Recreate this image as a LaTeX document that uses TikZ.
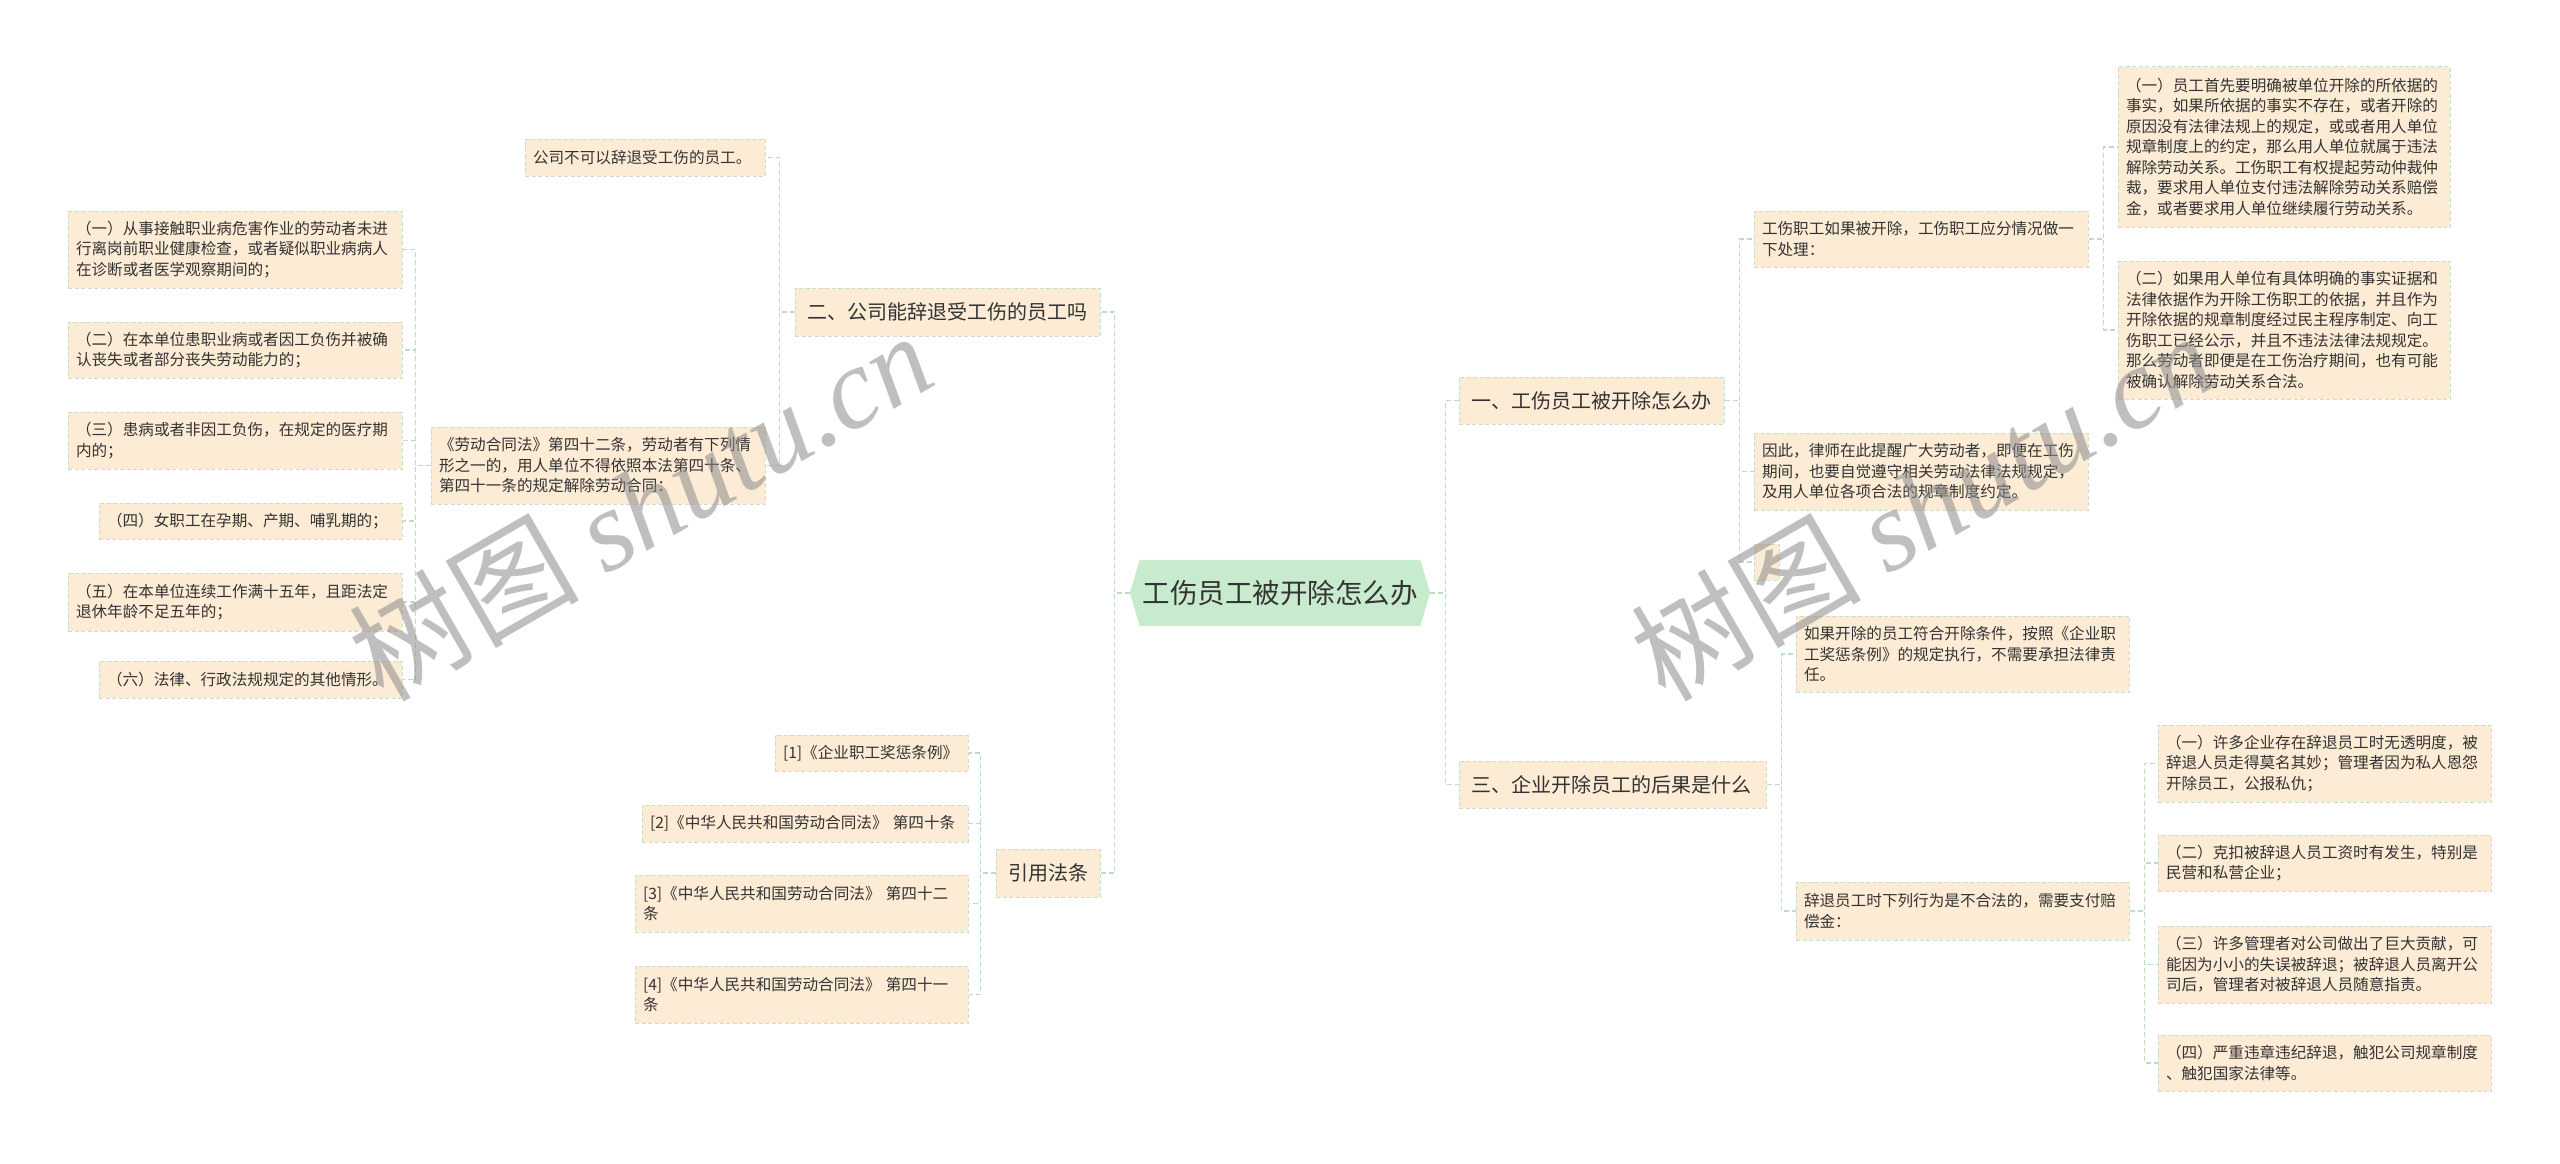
\documentclass[tikz,border=0pt]{standalone}
\usepackage{fontspec}
\setmainfont{Noto Sans CJK SC}
\newfontfamily\wmlatin{Liberation Serif}
\usetikzlibrary{backgrounds}
\definecolor{boxfill}{HTML}{FCEBD5}
\definecolor{boxline}{HTML}{CADFC6}
\definecolor{connc}{HTML}{BCDFC4}
\definecolor{ctrfill}{HTML}{C8EBCE}
\definecolor{txt}{HTML}{333333}
\tikzset{
  box/.style={rectangle, fill=boxfill, draw=boxline, dash pattern=on 4pt off 2.5pt, line width=1pt,
    text=txt, inner xsep=8pt, inner ysep=2pt, align=left, font=\fontsize{15.6}{20.5}\selectfont},
  topbox/.style={box, inner xsep=12pt, font=\fontsize{20}{24}\selectfont},
  conn/.style={draw=connc, line width=1.3pt, dash pattern=on 5pt off 3pt},
  wm/.style={text=black!45, text opacity=0.55, rotate=30, inner sep=0pt}
}
\begin{document}
\begin{tikzpicture}[x=1pt,y=-1pt]
\useasboundingbox (0,0) rectangle (2560,1164);

% centre
\node[text=txt, font=\fontsize{27.5}{33}\selectfont, minimum width=300, minimum height=66, inner sep=0pt] (c) at (1280,593) {工伤员工被开除怎么办};

% left level 1
\node[topbox, minimum width=305, minimum height=48, text width=281] (L1) at (947.5,312) {二、公司能辞退受工伤的员工吗};
\node[topbox, minimum width=104, minimum height=48, text width=80] (L3) at (1048,873) {引用法条};

% left level 2
\node[box, minimum width=240, minimum height=37, text width=224] (L1a) at (645,157.5) {公司不可以辞退受工伤的员工。};
\node[box, minimum width=334, minimum height=77, text width=318] (L1b) at (598,465.5) {《劳动合同法》第四十二条，劳动者有下列情\\形之一的，用人单位不得依照本法第四十条、\\第四十一条的规定解除劳动合同：};

% left level 3
\node[box, minimum width=334, minimum height=77, text width=318] (k1) at (235,249.5) {（一）从事接触职业病危害作业的劳动者未进\\行离岗前职业健康检查，或者疑似职业病病人\\在诊断或者医学观察期间的；};
\node[box, minimum width=334, minimum height=56, text width=318] (k2) at (235,350) {（二）在本单位患职业病或者因工负伤并被确\\认丧失或者部分丧失劳动能力的；};
\node[box, minimum width=334, minimum height=57, text width=318] (k3) at (235,440.5) {（三）患病或者非因工负伤，在规定的医疗期\\内的；};
\node[box, minimum width=303, minimum height=36, text width=287] (k4) at (250.5,521) {（四）女职工在孕期、产期、哺乳期的；};
\node[box, minimum width=334, minimum height=58, text width=318] (k5) at (235,602) {（五）在本单位连续工作满十五年，且距法定\\退休年龄不足五年的；};
\node[box, minimum width=303, minimum height=37, text width=287] (k6) at (250.5,679.5) {（六）法律、行政法规规定的其他情形。};

% references
\node[box, minimum width=193, minimum height=36, text width=177] (f1) at (871.5,753) {[1]《企业职工奖惩条例》};
\node[box, minimum width=326, minimum height=37, text width=310] (f2) at (805,823.5) {[2]《中华人民共和国劳动合同法》 第四十条};
\node[box, minimum width=333, minimum height=57, text width=317] (f3) at (801.5,903.5) {[3]《中华人民共和国劳动合同法》 第四十二\\条};
\node[box, minimum width=333, minimum height=57, text width=317] (f4) at (801.5,994.5) {[4]《中华人民共和国劳动合同法》 第四十一\\条};

% right level 1
\node[topbox, minimum width=265, minimum height=47, text width=241] (R1) at (1591.5,400.5) {一、工伤员工被开除怎么办};
\node[topbox, minimum width=307, minimum height=47, text width=283] (R3) at (1612.5,784.5) {三、企业开除员工的后果是什么};

% R1 children
\node[box, minimum width=334, minimum height=56, text width=318] (R1a) at (1921,239) {工伤职工如果被开除，工伤职工应分情况做一\\下处理：};
\node[box, minimum width=334, minimum height=77, text width=318] (R1b) at (1921,471.5) {因此，律师在此提醒广大劳动者，即便在工伤\\期间，也要自觉遵守相关劳动法律法规规定，\\及用人单位各项合法的规章制度约定。};
\node[box, minimum width=25, minimum height=36, inner sep=0pt] (R1c) at (1766.5,562) {};

\node[box, minimum width=332, minimum height=160, text width=316] (R1a1) at (2284,147) {（一）员工首先要明确被单位开除的所依据的\\事实，如果所依据的事实不存在，或者开除的\\原因没有法律法规上的规定，或或者用人单位\\规章制度上的约定，那么用人单位就属于违法\\解除劳动关系。工伤职工有权提起劳动仲裁仲\\裁，要求用人单位支付违法解除劳动关系赔偿\\金，或者要求用人单位继续履行劳动关系。};
\node[box, minimum width=332, minimum height=138, text width=316] (R1a2) at (2284,330) {（二）如果用人单位有具体明确的事实证据和\\法律依据作为开除工伤职工的依据，并且作为\\开除依据的规章制度经过民主程序制定、向工\\伤职工已经公示，并且不违法法律法规规定。\\那么劳动者即便是在工伤治疗期间，也有可能\\被确认解除劳动关系合法。};

% R3 children
\node[box, minimum width=333, minimum height=76, text width=317] (R3a) at (1962.5,654) {如果开除的员工符合开除条件，按照《企业职\\工奖惩条例》的规定执行，不需要承担法律责\\任。};
\node[box, minimum width=333, minimum height=58, text width=317] (R3b) at (1962.5,911) {辞退员工时下列行为是不合法的，需要支付赔\\偿金：};

\node[box, minimum width=333, minimum height=77, text width=317] (s1) at (2324.5,763.5) {（一）许多企业存在辞退员工时无透明度，被\\辞退人员走得莫名其妙；管理者因为私人恩怨\\开除员工，公报私仇；};
\node[box, minimum width=333, minimum height=56, text width=317] (s2) at (2324.5,863) {（二）克扣被辞退人员工资时有发生，特别是\\民营和私营企业；};
\node[box, minimum width=333, minimum height=77, text width=317] (s3) at (2324.5,964.5) {（三）许多管理者对公司做出了巨大贡献，可\\能因为小小的失误被辞退；被辞退人员离开公\\司后，管理者对被辞退人员随意指责。};
\node[box, minimum width=333, minimum height=56, text width=317] (s4) at (2324.5,1063) {（四）严重违章违纪辞退，触犯公司规章制度\\、触犯国家法律等。};

\begin{pgfonlayer}{background}
  \fill[white] (0,0) rectangle (2560,1164);
  \fill[ctrfill] (c.west) -- ([xshift=10pt]c.north west) -- ([xshift=-10pt]c.north east) -- (c.east)
    -- ([xshift=-10pt]c.south east) -- ([xshift=10pt]c.south west) -- cycle;
  \foreach \p/\q in {c/L1, c/L3, L1/L1a, L1/L1b, L1b/k1, L1b/k2, L1b/k3, L1b/k4, L1b/k5, L1b/k6, L3/f1, L3/f2, L3/f3, L3/f4}
    \draw[conn] (\p.west) -- ++(-15,0) |- (\q.east);
  \foreach \p/\q in {c/R1, c/R3, R1/R1a, R1/R1b, R1/R1c, R1a/R1a1, R1a/R1a2, R3/R3a, R3/R3b, R3b/s1, R3b/s2, R3b/s3, R3b/s4}
    \draw[conn] (\p.east) -- ++(15,0) |- (\q.west);
\end{pgfonlayer}

% watermarks
\node[wm, font=\fontsize{115}{120}\selectfont] (w1) at (640,505) {树图 {\wmlatin\itshape shutu.cn}};
\node[wm, font=\fontsize{115}{120}\selectfont] (w2) at (1922,505) {树图 {\wmlatin\itshape shutu.cn}};
\end{tikzpicture}
\end{document}
